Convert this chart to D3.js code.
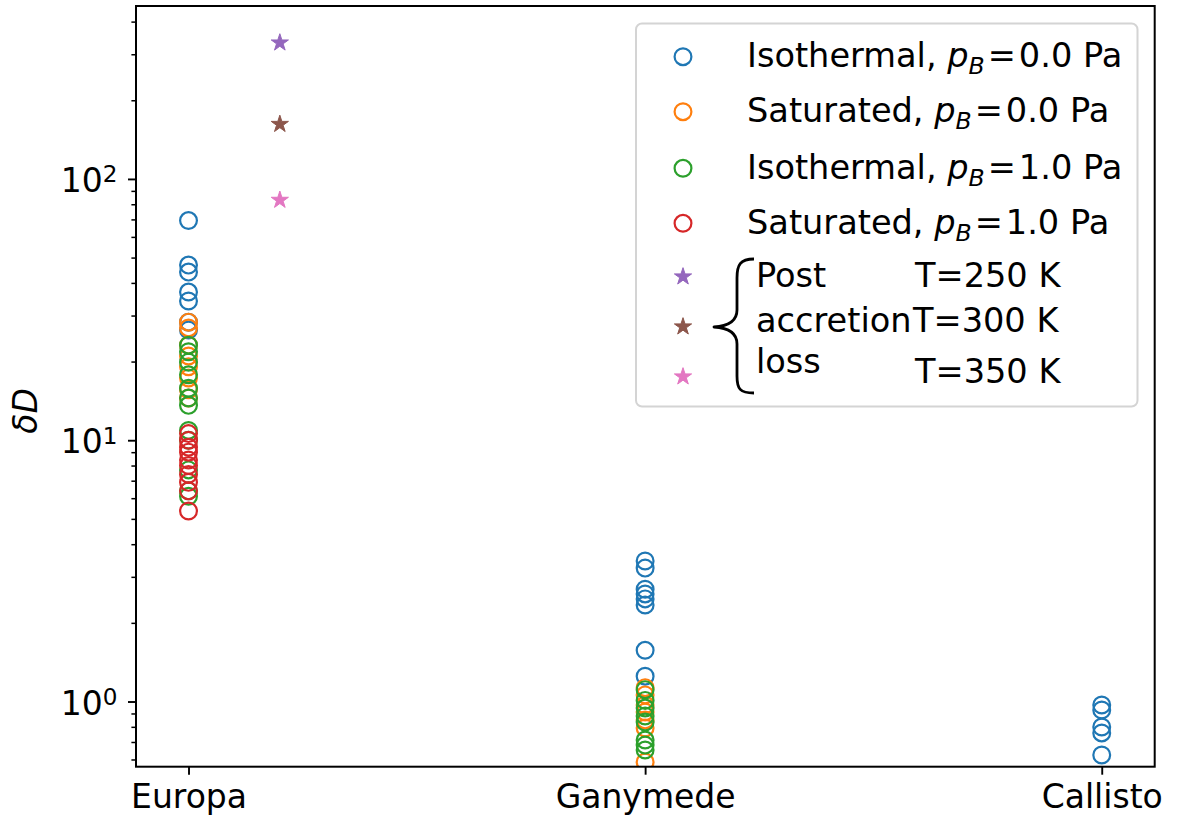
<!DOCTYPE html>
<html>
<head>
<meta charset="utf-8">
<script src="https://cdn.jsdelivr.net/npm/d3@7"></script>
<style>
  body { margin: 0; background: #fff; }
  svg { display: block; }
  text { font-family: "DejaVu Sans", sans-serif; fill: #000; }
</style>
</head>
<body>
<svg id="chart" width="1178" height="823"></svg>
<script>
// Moons along the x axis
const moons = ["Europa", "Ganymede", "Callisto"];

// δD per model run: [moon, value]
const isothermalP0 = [
  ["Europa", 69.3], ["Europa", 46.8], ["Europa", 44.0], ["Europa", 36.9], ["Europa", 34.1],
  ["Europa", 28.3], ["Europa", 26.4],
  ["Ganymede", 3.45], ["Ganymede", 3.24], ["Ganymede", 2.69], ["Ganymede", 2.58],
  ["Ganymede", 2.47], ["Ganymede", 2.34], ["Ganymede", 1.57], ["Ganymede", 1.25],
  ["Callisto", 0.97], ["Callisto", 0.928], ["Callisto", 0.799], ["Callisto", 0.758], ["Callisto", 0.624]
];
const saturatedP0 = [
  ["Europa", 28.3], ["Europa", 26.9], ["Europa", 23.1], ["Europa", 21.0], ["Europa", 19.1],
  ["Europa", 17.3], ["Europa", 15.6], ["Europa", 14.5],
  ["Ganymede", 1.13], ["Ganymede", 1.06], ["Ganymede", 0.97], ["Ganymede", 0.912],
  ["Ganymede", 0.85], ["Ganymede", 0.792], ["Ganymede", 0.587]
];
const isothermalP1 = [
  ["Europa", 23.1], ["Europa", 21.8], ["Europa", 19.9], ["Europa", 17.8], ["Europa", 15.8],
  ["Europa", 14.5], ["Europa", 13.6], ["Europa", 10.9], ["Europa", 10.0], ["Europa", 7.7],
  ["Europa", 6.4], ["Europa", 6.1],
  ["Ganymede", 1.11], ["Ganymede", 1.01], ["Ganymede", 0.944], ["Ganymede", 0.88],
  ["Ganymede", 0.835], ["Ganymede", 0.712], ["Ganymede", 0.681], ["Ganymede", 0.652]
];
const saturatedP1 = [
  ["Europa", 10.6], ["Europa", 10.0], ["Europa", 9.4], ["Europa", 9.0], ["Europa", 8.4],
  ["Europa", 8.0], ["Europa", 7.4], ["Europa", 6.9], ["Europa", 6.4], ["Europa", 5.36]
];

// Post-accretion loss at Europa for three surface temperatures
const lossTemps = [250, 300, 350];
const lossValues = [332, 162, 83];

// Legend text
const circleLabels = [
  ["Isothermal, ", "0.0 Pa"],
  ["Saturated, ", "0.0 Pa"],
  ["Isothermal, ", "1.0 Pa"],
  ["Saturated, ", "1.0 Pa"]
];
const braceLines = ["Post", "accretion", "loss"];

// Axis ticks
const majorTicks = [1, 10, 100];
const majorExponents = ["0", "1", "2"];

const circleColors = ["#1f77b4", "#ff7f0e", "#2ca02c", "#d62728"];
const starColors = ["#9467bd", "#8c564b", "#e377c2"];

const FS = 33;
const LFS = 33.6;
const svg = d3.select("#chart");
const plot = { left: 136, right: 1154.7, top: 6, bottom: 766.7 };

const x = d3.scaleLinear().domain([-0.115, 2.116]).range([plot.left, plot.right]);
const y = d3.scaleLog().domain([0.563, 459]).range([plot.bottom, plot.top]);
const moonX = m => x(moons.indexOf(m));

svg.append("defs").append("clipPath").attr("id", "plotClip")
  .append("rect")
  .attr("x", plot.left).attr("y", plot.top)
  .attr("width", plot.right - plot.left).attr("height", plot.bottom - plot.top);

// Scatter layers
const R = 8.4, SW = 2.2;
const layer = svg.append("g").attr("clip-path", "url(#plotClip)");
[isothermalP0, saturatedP0, isothermalP1, saturatedP1].forEach((series, i) => {
  layer.append("g").selectAll("circle").data(series).join("circle")
    .attr("cx", d => moonX(d[0]))
    .attr("cy", d => y(d[1]))
    .attr("r", R)
    .attr("fill", "none")
    .attr("stroke", circleColors[i])
    .attr("stroke-width", SW);
});

const star = d3.symbol().type(d3.symbolStar).size(92);
layer.append("g").selectAll("path").data(lossValues).join("path")
  .attr("transform", d => `translate(${x(0.2)},${y(d)})`)
  .attr("d", star)
  .attr("fill", (d, i) => starColors[i])
  .attr("stroke", (d, i) => starColors[i])
  .attr("stroke-width", 1);

// Bottom axis
const xAxis = svg.append("g")
  .attr("transform", `translate(0,${plot.bottom})`)
  .call(d3.axisBottom(x).tickValues([0, 1, 2]).tickFormat(i => moons[i]).tickSize(8).tickPadding(10));
xAxis.select(".domain").remove();
xAxis.selectAll(".tick line").attr("stroke", "#000").attr("stroke-width", 1.9);
xAxis.selectAll(".tick text").attr("font-size", FS).attr("font-family", "DejaVu Sans").attr("fill", "#000");

// Left axis: minor ticks
const minorTicks = y.ticks().filter(v => !majorTicks.includes(v));
const yMinor = svg.append("g")
  .attr("transform", `translate(${plot.left},0)`)
  .call(d3.axisLeft(y).tickValues(minorTicks).tickFormat("").tickSize(4.6));
yMinor.select(".domain").remove();
yMinor.selectAll(".tick line").attr("stroke", "#000").attr("stroke-width", 1.5);

// Left axis: decades with power-of-ten labels
const yMajor = svg.append("g")
  .attr("transform", `translate(${plot.left},0)`)
  .call(d3.axisLeft(y).tickValues(majorTicks).tickFormat("").tickSize(8));
yMajor.select(".domain").remove();
yMajor.selectAll(".tick line").attr("stroke", "#000").attr("stroke-width", 1.9);
yMajor.selectAll(".tick").each(function (d, i) {
  const t = d3.select(this).append("text")
    .attr("x", -18.5).attr("y", 12.5)
    .attr("text-anchor", "end")
    .attr("font-size", FS);
  t.append("tspan").text("10");
  t.append("tspan").attr("font-size", FS * 0.7).attr("dy", -9.5).text(majorExponents[i]);
});

// Frame
svg.append("rect")
  .attr("x", plot.left).attr("y", plot.top)
  .attr("width", plot.right - plot.left).attr("height", plot.bottom - plot.top)
  .attr("fill", "none").attr("stroke", "#000").attr("stroke-width", 2);

// y label
svg.append("text")
  .attr("transform", "translate(37,411) rotate(-90)")
  .attr("text-anchor", "middle")
  .attr("font-size", FS)
  .attr("font-style", "italic")
  .text("δD");

// Legend
const lg = svg.append("g");
lg.append("rect")
  .attr("x", 636).attr("y", 23.5).attr("width", 501.5).attr("height", 383)
  .attr("rx", 6).attr("ry", 6)
  .attr("fill", "#fff").attr("fill-opacity", 0.8)
  .attr("stroke", "#d4d4d4").attr("stroke-width", 2);

const rowY = [56.7, 111.7, 168.3, 223.3];
circleLabels.forEach((lab, i) => {
  lg.append("circle").attr("cx", 683).attr("cy", rowY[i]).attr("r", R)
    .attr("fill", "none").attr("stroke", circleColors[i]).attr("stroke-width", SW);
  const t = lg.append("text").attr("x", 747).attr("y", rowY[i] + 10.5).attr("font-size", LFS);
  t.append("tspan").text(lab[0]);
  t.append("tspan").attr("font-style", "italic").text("p");
  t.append("tspan").attr("font-style", "italic").attr("font-size", LFS * 0.7).attr("dy", 7).text("B");
  t.append("tspan").attr("dy", -7).attr("dx", 3).text("=");
  t.append("tspan").attr("dx", 3).text(lab[1]);
});

const starRowY = [276.7, 326.7, 376.7];
lossTemps.forEach((T, i) => {
  lg.append("path")
    .attr("transform", `translate(683,${starRowY[i]})`)
    .attr("d", star)
    .attr("fill", starColors[i]).attr("stroke", starColors[i]).attr("stroke-width", 1);
});
const braceBase = [286.7, 331.7, 373];
braceLines.forEach((s, i) => {
  lg.append("text").attr("x", 756).attr("y", braceBase[i]).attr("font-size", LFS).text(s);
});
const tempX = [915, 913, 915];
const tempBase = [286.7, 331.7, 383];
lossTemps.forEach((T, i) => {
  lg.append("text").attr("x", tempX[i]).attr("y", tempBase[i]).attr("font-size", LFS)
    .text(`T=${T} K`);
});

// Curly brace grouping the loss entries
lg.append("path")
  .attr("d", "M754,259 C740,259 737,265 737,278 L737,310 C737,320 730,326 714,327 C730,328 737,334 737,344 L737,376 C737,389 740,393 754,393")
  .attr("fill", "none").attr("stroke", "#000").attr("stroke-width", 2.8)
  .attr("stroke-linejoin", "round");
</script>
</body>
</html>
